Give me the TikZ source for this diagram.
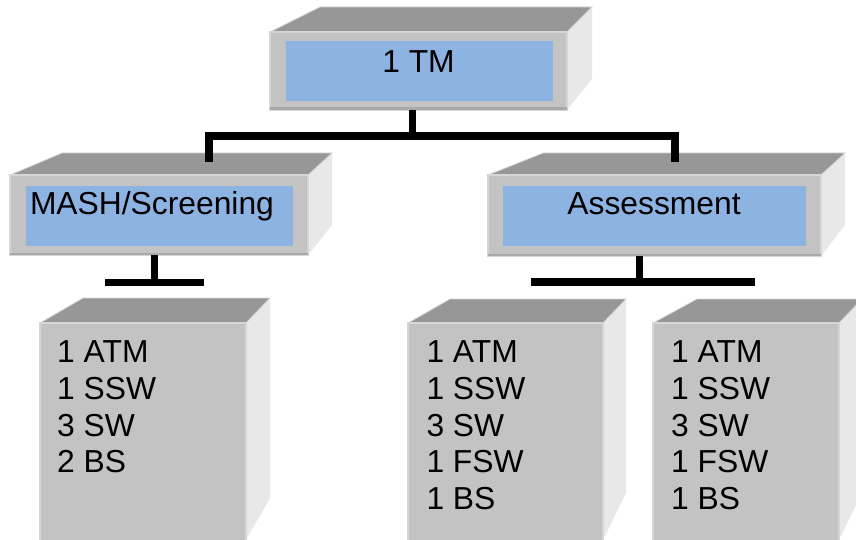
\documentclass[tikz,border=0pt]{standalone}
\usepackage{fontspec}
\setmainfont{Liberation Sans}
\definecolor{topc}{HTML}{979797}
\definecolor{frontc}{HTML}{C3C3C3}
\definecolor{sidec}{HTML}{E8E8E8}
\definecolor{bluec}{HTML}{8DB3E2}
\definecolor{edgelight}{HTML}{D6D6D6}
\definecolor{edgedark}{HTML}{A9A9A9}
\tikzset{
  topface/.style={fill=topc, draw=edgelight, line width=0.8pt, line join=miter},
  sideface/.style={fill=sidec},
  frontbox/.style={rectangle, fill=frontc, draw=edgelight, line width=1.5pt, inner sep=0pt, outer sep=0pt, anchor=north west},
  bluebox/.style={rectangle, fill=bluec, inner sep=0pt, outer sep=0pt, anchor=north west},
  lbl/.style={font=\fontsize{31.8}{37}\selectfont, inner sep=0pt, anchor=base west},
  conn/.style={black, line width=8pt, line cap=butt, line join=miter},
  stub/.style={black, line width=7.5pt, line cap=butt}
}
\newcommand{\bottomline}[1]{\draw[edgedark, line width=2.5pt] ([yshift=1.25pt]#1.south west) -- ([yshift=1.25pt]#1.south east);}
\begin{document}
\begin{tikzpicture}[x=1pt,y=-1pt]
\useasboundingbox (0,0) rectangle (856,540);
\clip (0,0) rectangle (856,540);

% ---------- top box: 1 TM ----------
\fill[sideface] (567,32) -- (592,7) -- (592,79) -- (567,110) -- cycle;
\draw[topface] (270,32) -- (320,7) -- (592,7) -- (567,32) -- cycle;
\node[frontbox, minimum width=297pt, minimum height=78pt] (tmF) at (270,32) {};
\bottomline{tmF}
\node[bluebox, minimum width=267pt, minimum height=60pt] (tmB) at (286,41) {};
\node[lbl, anchor=base] (tmT) at (418.5,72.5) {1 TM};

% ---------- MASH/Screening ----------
\fill[sideface] (308,175) -- (332,153) -- (332,225) -- (308,255) -- cycle;
\draw[topface] (10,175) -- (62,153) -- (332,153) -- (308,175) -- cycle;
\node[frontbox, minimum width=298pt, minimum height=80pt] (mashF) at (10,175) {};
\bottomline{mashF}
\node[bluebox, minimum width=267pt, minimum height=60pt] (mashB) at (26,186) {};
\node[lbl] (mashT) at (29.8,214.5) {MASH/Screening};

% ---------- Assessment ----------
\fill[sideface] (821,175) -- (845,153) -- (845,225) -- (821,256) -- cycle;
\draw[topface] (488,175) -- (543,153) -- (845,153) -- (821,175) -- cycle;
\node[frontbox, minimum width=333pt, minimum height=81pt] (assF) at (488,175) {};
\bottomline{assF}
\node[bluebox, minimum width=303pt, minimum height=60pt] (assB) at (503,186) {};
\node[lbl, anchor=base] (assT) at (654,214.5) {Assessment};

% ---------- bottom left ----------
\fill[sideface] (246,323) -- (270,298) -- (270,498) -- (246,540) -- cycle;
\draw[topface] (40,323) -- (83,298) -- (270,298) -- (246,323) -- cycle;
\node[frontbox, minimum width=206pt, minimum height=230pt] (blF) at (40,323) {};
\node[lbl] (bl1) at (57,362.9) {1 ATM};
\node[lbl] (bl2) at (57,399.6) {1 SSW};
\node[lbl] (bl3) at (57,436.2) {3 SW};
\node[lbl] (bl4) at (57,472.9) {2 BS};

% ---------- bottom middle ----------
\fill[sideface] (603,323) -- (626,299) -- (626,493) -- (603,540) -- cycle;
\draw[topface] (408,323) -- (450,299) -- (626,299) -- (603,323) -- cycle;
\node[frontbox, minimum width=195pt, minimum height=230pt] (bmF) at (408,323) {};
\node[lbl] (bm1) at (426.3,362.9) {1 ATM};
\node[lbl] (bm2) at (426.3,399.6) {1 SSW};
\node[lbl] (bm3) at (426.3,436.2) {3 SW};
\node[lbl] (bm4) at (426.3,472.9) {1 FSW};
\node[lbl] (bm5) at (426.3,509.5) {1 BS};

% ---------- bottom right ----------
\fill[sideface] (839,323) -- (862,299) -- (862,493) -- (839,540) -- cycle;
\draw[topface] (653,323) -- (697,299) -- (862,299) -- (839,323) -- cycle;
\node[frontbox, minimum width=186pt, minimum height=230pt] (brF) at (653,323) {};
\node[lbl] (br1) at (671,362.9) {1 ATM};
\node[lbl] (br2) at (671,399.6) {1 SSW};
\node[lbl] (br3) at (671,436.2) {3 SW};
\node[lbl] (br4) at (671,472.9) {1 FSW};
\node[lbl] (br5) at (671,509.5) {1 BS};

% ---------- connectors ----------
\coordinate (j0) at (412.5,136);
\coordinate (jl) at (208.5,136);
\coordinate (jr) at (674.5,136);
\coordinate (ml) at (208.5,162);
\coordinate (mr) at (674.5,162);
\draw[stub] (tmF.south -| j0) -- (j0);
\draw[conn] (ml) -- (jl) -- (jr) -- (mr);

\coordinate (a0) at (154.5,282.5);
\coordinate (a1) at (105,282.5);
\coordinate (a2) at (204,282.5);
\draw[stub] (mashF.south -| a0) -- (a0);
\draw[stub] (a1) -- (a2);

\coordinate (b0) at (639.5,282);
\coordinate (b1) at (531,282);
\coordinate (b2) at (755,282);
\draw[stub] (assF.south -| b0) -- (b0);
\draw[conn] (b1) -- (b2);
\end{tikzpicture}
\end{document}
